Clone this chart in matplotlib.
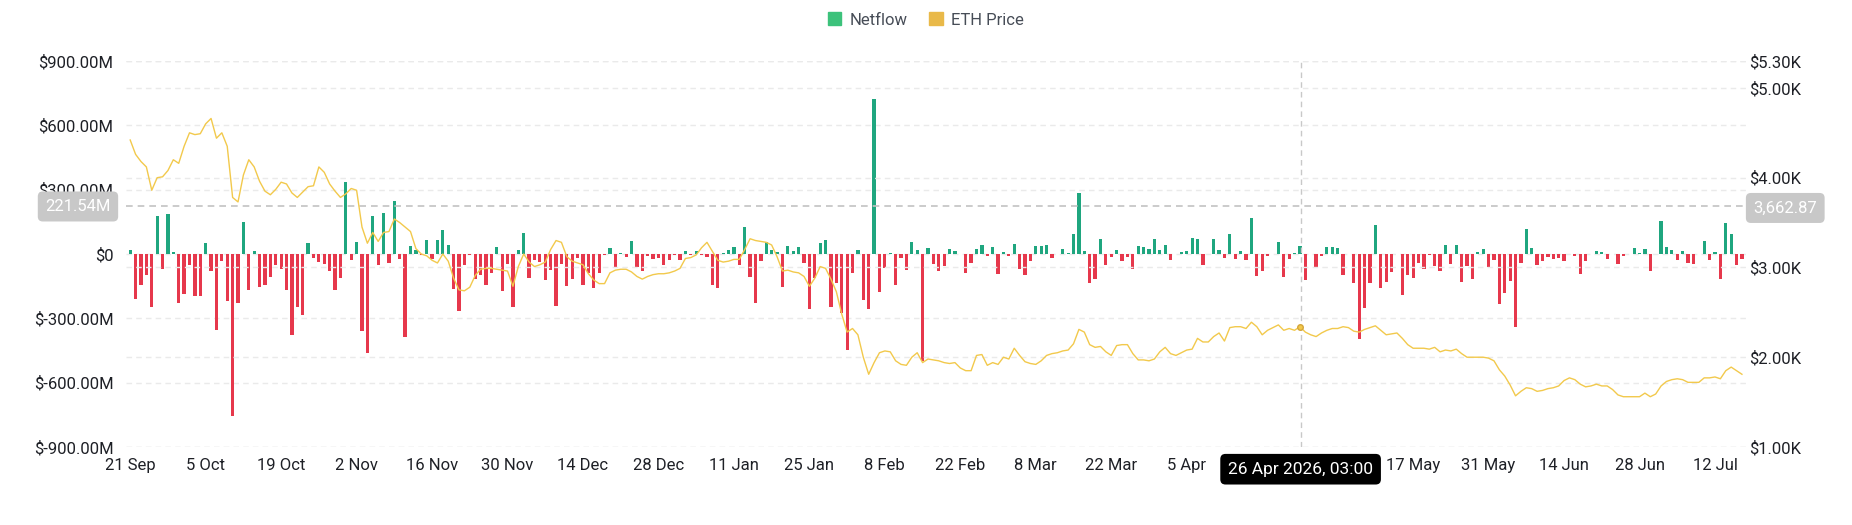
import pandas as pd
import matplotlib
matplotlib.use("Agg")
import matplotlib.pyplot as plt
from matplotlib.patches import Patch

# daily exchange netflow ($M) and ETH price ($), from 21 Sep 2025
start_date = "2025-09-21"
netflow = [
    20, -208, -143, -96, -245, 176, -71, 188, 9, -228,
    -186, -53, -194, -197, 50, -81, -353, -31, -221, -754,
    -228, 149, -169, 15, -154, -143, -109, -50, -68, -169,
    -379, -249, -283, 50, -19, -39, -47, -81, -166, -112,
    336, -26, 57, -357, -463, 177, -50, 193, -44, 246,
    -25, -385, 36, 20, -5, 64, -23, 65, 113, 44,
    -165, -264, -50, -3, -115, -96, -146, -89, 34, -174,
    -47, -246, 20, 99, -112, -30, -39, -123, -73, -241,
    -47, -148, -117, -19, -146, -89, -159, -89, -5, 26,
    -62, 3, -12, 62, -62, -81, -9, -25, -19, -50,
    -28, -3, -30, 14, -5, 16, -5, -12, -146, -159,
    5, 17, 33, -53, 124, -106, -228, -34, 54, 17,
    11, -155, 39, 12, 33, -42, -256, -112, 51, 65,
    -247, -135, -275, -448, -90, 20, -216, -256, 724, -179,
    -65, 3, -146, -19, -73, 54, 17, -500, 28, -47,
    -78, -57, 25, 16, 2, -90, -44, 25, 40, -9,
    34, -92, 9, -11, 47, -70, -96, -34, 39, 39,
    42, -19, -2, 23, 6, 93, 284, 16, -135, -117,
    71, -50, -16, 17, -34, -12, -68, 36, 33, 25,
    68, 17, 42, -30, -2, 9, 12, 75, 71, -53,
    2, 70, 20, -19, 93, -25, 16, -30, 168, -101,
    -78, -9, -2, 54, -106, -23, 3, 35, -120, -2,
    -65, -9, 31, 31, 28, -96, 2, -135, -398, -252,
    -135, 137, -159, -131, -85, -2, -190, -96, -112, -42,
    -70, -3, -57, -81, 42, -47, 44, -131, -54, -115,
    11, 23, -61, -30, -232, -182, -124, -342, -42, 115,
    28, -50, -31, -16, -22, -19, -34, -2, -11, -92,
    -34, 2, 16, 9, -23, -2, -47, -11, 2, 28,
    5, 25, -81, 2, 155, 31, 17, -26, 16, -42,
    -47, 0, 62, -30, 11, -115, 145, 92, -53, -25,
]
eth_price = [
    4420, 4260, 4180, 4120, 3860, 4000, 4010, 4080, 4200, 4160,
    4350, 4500, 4480, 4490, 4600, 4660, 4440, 4500, 4350, 3780,
    3730, 4030, 4200, 4120, 3960, 3850, 3810, 3870, 3950, 3930,
    3830, 3780, 3840, 3900, 3910, 4120, 4060, 3930, 3850, 3780,
    3820, 3880, 3860, 3450, 3270, 3390, 3290, 3390, 3400, 3540,
    3500, 3450, 3400, 3210, 3150, 3130, 3080, 3050, 3150, 3070,
    2880, 2750, 2740, 2780, 2910, 2980, 2990, 2990, 2980, 2970,
    2960, 2790, 3010, 3150, 3060, 3010, 3030, 3060, 3200, 3300,
    3280, 3120, 3070, 3050, 3030, 2930, 2860, 2820, 2820, 2940,
    2970, 2980, 2980, 2950, 2900, 2870, 2900, 2920, 2930, 2930,
    2940, 2960, 2990, 3100, 3110, 3140, 3220, 3280, 3180, 3080,
    3060, 3070, 3090, 3090, 3200, 3320, 3300, 3290, 3280, 3250,
    3120, 2960, 2970, 2950, 2940, 2900, 2790, 2880, 3010, 2990,
    2870, 2730, 2480, 2280, 2320, 2250, 2000, 1810, 1940, 2050,
    2070, 2060, 1960, 1920, 1910, 2000, 2050, 1940, 1980, 1970,
    1960, 1940, 1930, 1940, 1880, 1850, 1850, 2020, 2030, 1910,
    1940, 1920, 2000, 1980, 2100, 2020, 1950, 1930, 1920, 1960,
    2020, 2040, 2050, 2070, 2080, 2150, 2310, 2280, 2140, 2110,
    2120, 2060, 2020, 2130, 2140, 2140, 2040, 1970, 1970, 1960,
    1980, 2060, 2110, 2040, 2020, 2050, 2080, 2090, 2210, 2170,
    2170, 2230, 2270, 2180, 2330, 2340, 2340, 2320, 2390, 2340,
    2250, 2300, 2330, 2360, 2300, 2320, 2300, 2340, 2280, 2250,
    2230, 2270, 2300, 2320, 2320, 2340, 2330, 2290, 2280, 2310,
    2330, 2350, 2300, 2250, 2260, 2270, 2210, 2140, 2100, 2100,
    2100, 2090, 2110, 2060, 2080, 2070, 2090, 2040, 2000, 2000,
    2000, 2000, 1990, 1960, 1860, 1790, 1690, 1570, 1620, 1660,
    1650, 1620, 1630, 1650, 1660, 1680, 1740, 1770, 1750, 1700,
    1670, 1680, 1700, 1680, 1680, 1640, 1580, 1560, 1560, 1560,
    1560, 1600, 1560, 1590, 1680, 1730, 1750, 1760, 1750, 1720,
    1720, 1720, 1770, 1770, 1780, 1760, 1850, 1890, 1850, 1810,
]
left_ticks = [-900, -600, -300, 0, 300, 600, 900]
right_ticks = [1000, 2000, 3000, 4000, 5000, 5300]
# every 14 days; 19 Apr and 3 May sit under the hover label
xtick_days = [0, 14, 28, 42, 56, 70, 84, 98, 112, 126, 140, 154, 168, 182, 196,
              238, 252, 266, 280, 294]

hover_time = "2026-04-26 03:00"
hover_flow = 221.54
hover_price = 3662.87

GREEN = "#1fa67f"
RED = "#e6384c"
YELLOW = "#f2c94c"
TXT = "#1e2026"

plt.rcParams["font.family"] = ["Roboto", "DejaVu Sans"]

dates = pd.date_range(start_date, periods=len(netflow), freq="D")
colors = [GREEN if v >= 0 else RED for v in netflow]

fig = plt.figure(figsize=(18.52, 5.25), dpi=100)
ax = fig.add_axes([0.068, 0.1486, 0.875, 0.7352])
ax2 = ax.twinx()

ax.bar(dates, netflow, width=0.6, color=colors, zorder=2)
ax2.plot(dates, eth_price, color=YELLOW, lw=1.0, zorder=3)

ax.set_ylim(-900, 900)
ax2.set_ylim(1000, 5300)
ax.set_xlim(dates[0] - pd.Timedelta(hours=19), dates[-1] + pd.Timedelta(hours=20))

ax.set_yticks(left_ticks)
ax.set_yticklabels(["$0" if v == 0 else f"${v:.2f}M" for v in left_ticks])
ax2.set_yticks(right_ticks)
ax2.set_yticklabels([f"${v / 1000:.2f}K" for v in right_ticks])
ax.set_xticks([dates[d] for d in xtick_days])
ax.set_xticklabels([f"{dates[d].day} {dates[d].strftime('%b')}" for d in xtick_days])

for a in (ax, ax2):
    for s in a.spines.values():
        s.set_visible(False)
    a.tick_params(length=0, labelsize=12, colors=TXT)
    a.grid(axis="y", ls=(0, (4, 3)), color="#eaeaea", lw=1)
    a.set_axisbelow(True)
ax.tick_params(axis="x", pad=8)
ax.tick_params(axis="y", pad=9)
ax2.tick_params(axis="y", pad=2)

# hover crosshair
ht = pd.Timestamp(hover_time)
ax.axvline(ht, color="#c8c8c8", lw=1, ls=(0, (4, 3)), zorder=4)
ax.axhline(hover_flow, color="#c2c2c2", lw=1.2, ls=(0, (4, 3)), zorder=4)
ax2.plot([dates[217]], [eth_price[217]], "o", ms=4, mfc=YELLOW, mec="#d4a53a", zorder=5)

box = dict(boxstyle="round,pad=0.45,rounding_size=0.3", fc="#c8c8c8", ec="none")
ax.annotate(f"{hover_flow:.2f}M", xy=(0, hover_flow), xycoords=("axes fraction", "data"),
            xytext=(-11, 0), textcoords="offset points", ha="right", va="center",
            fontsize=12, color="white", bbox=box, zorder=6, annotation_clip=False)
ax2.annotate(f"{hover_price:,.2f}", xy=(1, hover_price), xycoords=("axes fraction", "data"),
             xytext=(5, 0), textcoords="offset points", ha="left", va="center",
             fontsize=12, color="white", bbox=box, zorder=6, annotation_clip=False)
ax.annotate(ht.strftime("%d %b %Y, %H:%M"), xy=(ht, 0), xycoords=("data", "axes fraction"),
            xytext=(0, -16), textcoords="offset points", ha="center", va="center",
            fontsize=12.5, color="white", zorder=6, annotation_clip=False,
            bbox=dict(boxstyle="round,pad=0.45,rounding_size=0.3", fc="black", ec="none"))

handles = [Patch(color="#3cc27b", label="Netflow"), Patch(color="#e9b949", label="ETH Price")]
fig.legend(handles=handles, loc="upper center", bbox_to_anchor=(0.5, 1.005), ncol=2,
           frameon=False, fontsize=12, handlelength=0.8, handleheight=0.8,
           handletextpad=0.5, columnspacing=1.3, labelcolor="#474d57")

fig.savefig("out.png", dpi=100)
